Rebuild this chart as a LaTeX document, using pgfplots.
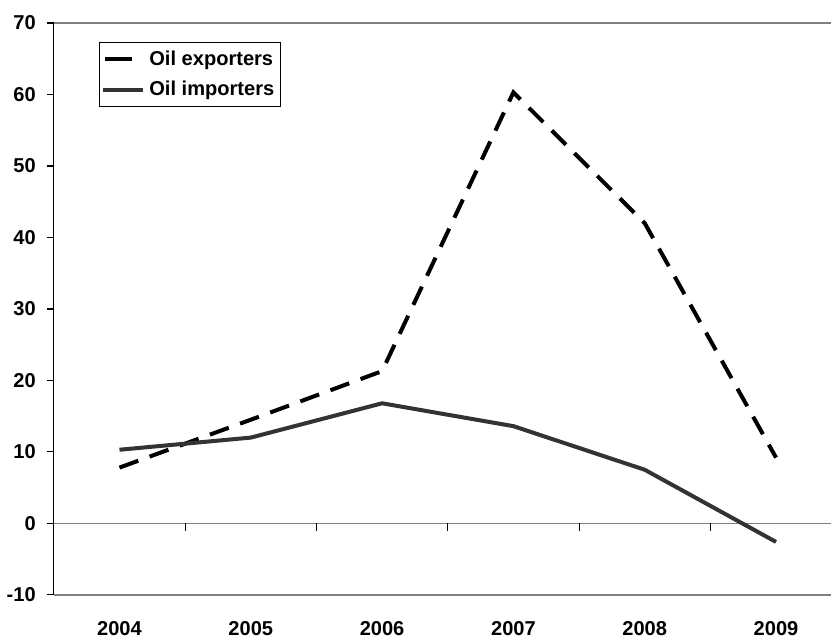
\documentclass[border=0pt]{standalone}
\usepackage{pgfplots}
\pgfplotsset{compat=1.18}
\usepackage{fontspec}
\setmainfont{Liberation Sans}

\definecolor{impgray}{HTML}{333333}
\definecolor{axgray}{HTML}{808080}

\begin{document}
\begin{tikzpicture}
\begin{axis}[
    scale only axis,
    width=387.5pt, height=285pt,
    xmin=-0.5, xmax=5.42,
    ymin=-10, ymax=70,
    axis x line*=bottom,
    x axis line style={draw=none},
    axis y line*=left,
    y axis line style={black, line width=0.6pt, -},
    xtick={0,...,5},
    xticklabels={2004,2005,2006,2007,2008,2009},
    x tick style={draw=none},
    xticklabel style={font=\bfseries\fontsize{10}{12}\selectfont, yshift=-6.5pt},
    ytick={-10,0,...,70},
    yticklabel style={font=\bfseries\fontsize{10}{12}\selectfont, xshift=-2pt},
    /pgf/number format/assume math mode=true,
    ytick style={black, line width=0.6pt},
    tick align=outside,
    major tick length=3.5pt,
    clip=false,
    legend style={at={(0.058,0.967)}, anchor=north west, draw=black, line width=0.5pt,
        font=\bfseries\fontsize{10}{12}\selectfont, inner xsep=1pt, inner ysep=2pt,
        row sep=2.5pt, cells={anchor=west}},
    legend cell align=left,
]
% frame lines
\draw[axgray, line width=0.8pt] (axis cs:-0.5,70) -- (axis cs:5.42,70);
\draw[axgray, line width=0.8pt] (axis cs:-0.5,-10) -- (axis cs:5.42,-10);
\draw[axgray, line width=0.8pt] (axis cs:-0.5,0) -- (axis cs:5.42,0);
\pgfplotsinvokeforeach{0.5,1.5,2.5,3.5,4.5}{
    \draw[black, line width=0.5pt] (axis cs:#1,0) -- (axis cs:#1,-1);
}

\addplot[black, line width=2pt, dash pattern=on 10pt off 6pt,
    legend image code/.code={\draw[black, line width=2pt, solid] (0.08cm,0cm) -- (0.55cm,0cm);}]
    coordinates {(0,7.8) (1,14.5) (2,21.3) (3,60.3) (4,42) (5,9.2)};
\addlegendentry{Oil exporters}
\addplot[impgray, line width=2pt,
    legend image code/.code={\draw[impgray, line width=2pt] (0.05cm,0cm) -- (0.75cm,0cm);}]
    coordinates {(0,10.3) (1,12.0) (2,16.8) (3,13.6) (4,7.5) (5,-2.6)};
\addlegendentry{Oil importers}
\end{axis}
\path (current axis.north) ++(0pt,11.5pt);
\end{tikzpicture}
\end{document}
